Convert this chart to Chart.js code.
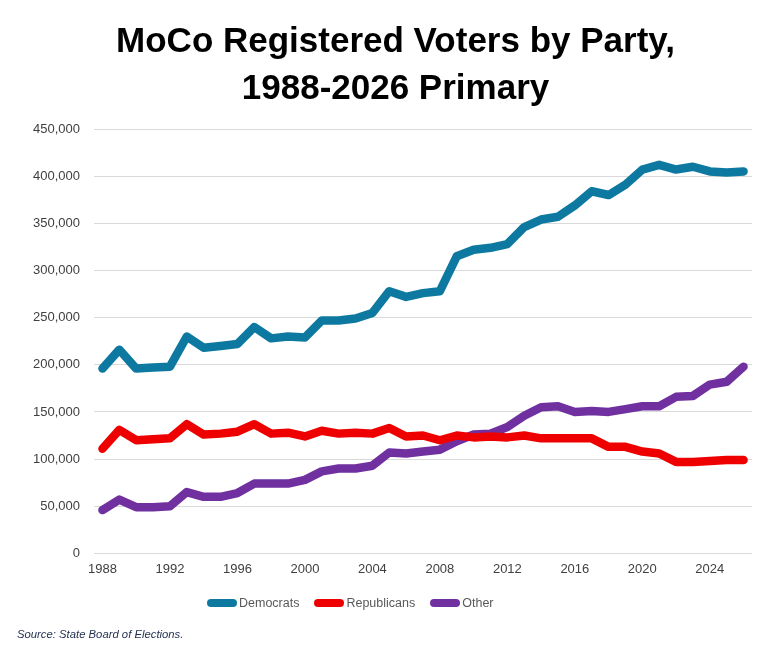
<!DOCTYPE html>
<html>
<head>
<meta charset="utf-8">
<script src="https://cdn.jsdelivr.net/npm/chart.js@4"></script>
<style>
  body { margin: 0; background: #fff; }
  #wrap { position: relative; width: 778px; height: 661px; }
  #legend { position: absolute; left: 207px; top: 596px; display: flex; align-items: center;
            font-family: "Liberation Sans", Arial, sans-serif; font-size: 12.5px; color: #595959; }
  .item { display: flex; align-items: center; margin-right: 15px; }
  .swatch { width: 30px; height: 8px; border-radius: 4px; margin-right: 2px; }
  #source { position: absolute; left: 17px; top: 628px; font-family: "Liberation Sans", Arial, sans-serif;
            font-style: italic; font-size: 11.3px; color: #1f2d4f; }
</style>
</head>
<body>
<div id="wrap">
  <canvas id="voterChart" width="778" height="661"></canvas>
  <div id="legend"></div>
  <div id="source">Source: State Board of Elections.</div>
</div>
<script>
const years = ["1988","1989","1990","1991","1992","1993","1994","1995","1996","1997",
  "1998","1999","2000","2001","2002","2003","2004","2005","2006","2007",
  "2008","2009","2010","2011","2012","2013","2014","2015","2016","2017",
  "2018","2019","2020","2021","2022","2023","2024","2025","2026"];
const xTickYears = ["1988","1992","1996","2000","2004","2008","2012","2016","2020","2024"];

const democrats = [196000, 216000, 196000, 197000, 198000, 230000, 218000, 220000, 222000, 240000,
  228000, 230000, 229000, 247000, 247000, 249000, 255000, 278000, 272000, 276000,
  278000, 315000, 322000, 324000, 328000, 346000, 354000, 357000, 369000, 384000,
  380000, 391000, 407000, 412000, 407000, 410000, 405000, 404000, 405000];
const republicans = [111000, 131000, 120000, 121000, 122000, 137000, 126000, 127000, 129000, 137000,
  127000, 128000, 124000, 130000, 127000, 128000, 127000, 133000, 124000, 125000,
  120000, 125000, 123000, 124000, 123000, 125000, 122000, 122000, 122000, 122000,
  113000, 113000, 108000, 106000, 97000, 97000, 98000, 99000, 99000];
const other = [46000, 57000, 49000, 49000, 50000, 65000, 60000, 60000, 64000, 74000,
  74000, 74000, 78000, 87000, 90000, 90000, 93000, 107000, 106000, 108000,
  110000, 119000, 126000, 127000, 134000, 146000, 155000, 156000, 150000, 151000,
  150000, 153000, 156000, 156000, 166000, 167000, 179000, 182000, 198000];

const seriesNames = ["Democrats", "Republicans", "Other"];
const seriesColors = ["#0e79a0", "#ee0000", "#7030a0"];
const seriesValues = [democrats, republicans, other];

const ctx = document.getElementById("voterChart").getContext("2d");
const axisFont = { family: "'Liberation Sans', Arial, sans-serif", size: 13 };

new Chart(ctx, {
    type: "line",
    data: {
        labels: years,
        datasets: seriesNames.map((name, i) => ({
            label: name,
            data: seriesValues[i],
            borderColor: seriesColors[i],
            backgroundColor: seriesColors[i],
            borderWidth: 8.5,
            pointRadius: 0,
            pointHoverRadius: 0,
            tension: 0,
            borderJoinStyle: "round",
            borderCapStyle: "round"
        }))
    },
    options: {
        responsive: false,
        animation: false,
        layout: { padding: { left: 13, right: 0, top: 0, bottom: 76 } },
        plugins: {
            legend: { display: false },
            tooltip: { enabled: false },
            title: {
                display: true,
                text: ["MoCo Registered Voters by Party,", "1988-2026 Primary"],
                color: "#000",
                font: { family: "'Liberation Sans', Arial, sans-serif", size: 35, weight: "bold", lineHeight: 1.33 },
                padding: { top: 19.5, bottom: 16.4 }
            }
        },
        scales: {
            x: {
                type: "category",
                offset: true,
                grid: { display: false, drawTicks: false },
                border: { display: false },
                ticks: {
                    autoSkip: false,
                    maxRotation: 0,
                    padding: 8,
                    color: "#404040",
                    font: axisFont,
                    callback: function(value) {
                        const lab = this.getLabelForValue(value);
                        return xTickYears.includes(lab) ? lab : "";
                    }
                }
            },
            y: {
                min: 0,
                max: 450000,
                grid: { color: "#d9d9d9", lineWidth: 1, drawTicks: false },
                border: { display: false },
                afterFit: function(scale) { scale.width = 81; },
                ticks: {
                    stepSize: 50000,
                    padding: 14,
                    color: "#404040",
                    font: axisFont,
                    callback: v => v.toLocaleString("en-US")
                }
            },
            // empty right margin, keeps title centred like the original
            yPad: {
                position: "right",
                grid: { display: false, drawTicks: false },
                border: { display: false },
                ticks: { display: false },
                afterFit: function(scale) { scale.width = 26; }
            }
        }
    }
});

// legend as html
const legend = document.getElementById("legend");
seriesNames.forEach((name, i) => {
    let item = document.createElement("div");
    item.className = "item";
    item.innerHTML = '<span class="swatch" style="background:' + seriesColors[i] + '"></span>' + name;
    legend.appendChild(item);
});
</script>
</body>
</html>
